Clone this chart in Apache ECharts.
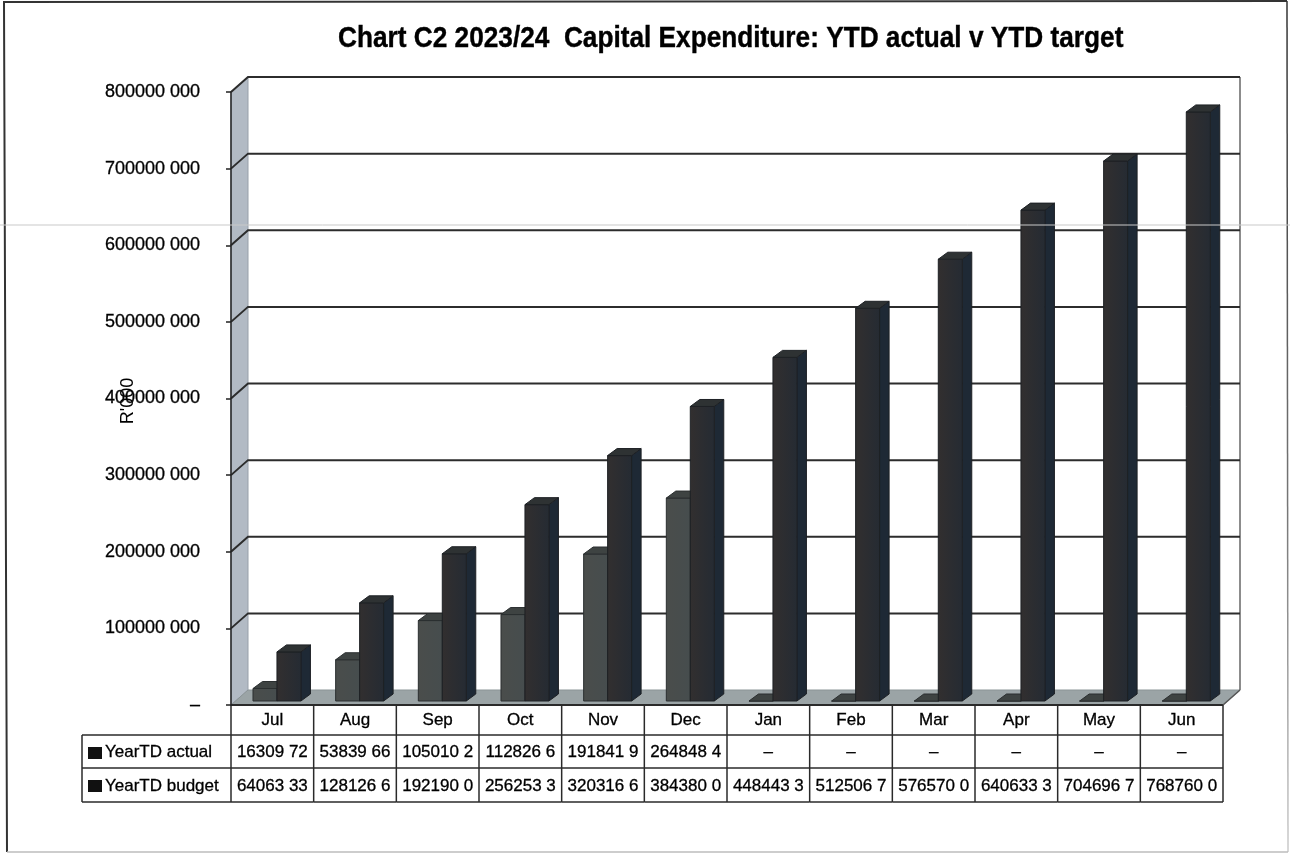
<!DOCTYPE html>
<html>
<head>
<meta charset="utf-8">
<style>html,body{margin:0;padding:0;background:#fff}#chart{width:1290px;height:856px}</style>
<script src="https://cdn.jsdelivr.net/npm/echarts@6/dist/echarts.min.js"></script>
</head>
<body>
<div id="chart"></div>
<script>
// Chart data
const chartTitle = 'Chart C2 2023/24  Capital Expenditure: YTD actual v YTD target';
const months = ['Jul','Aug','Sep','Oct','Nov','Dec','Jan','Feb','Mar','Apr','May','Jun'];
const actualName = 'YearTD actual';
const budgetName = 'YearTD budget';
const actualValues = [16309720, 53839660, 105010200, 112826600, 191841900, 264848400, 0, 0, 0, 0, 0, 0];
const budgetValues = [64063330, 128126600, 192190000, 256253300, 320316600, 384380000, 448443300, 512506700, 576570000, 640633300, 704696700, 768760000];
const actualText = ['16309 72','53839 66','105010 2','112826 6','191841 9','264848 4','–','–','–','–','–','–'];
const budgetText = ['64063 33','128126 6','192190 0','256253 3','320316 6','384380 0','448443 3','512506 7','576570 0','640633 3','704696 7','768760 0'];
const yTicks = [0, 100000000, 200000000, 300000000, 400000000, 500000000, 600000000, 700000000, 800000000];
const yTickText = ['–','100000 000','200000 000','300000 000','400000 000','500000 000','600000 000','700000 000','800000 000'];

// Pseudo-3D projection of the plot box and bars, in pixels
const DEPTH_X = 17, DEPTH_Y = 15;
const BAR_DX = 9.5, BAR_DY = 7, BAR_LIFT = 4;
const FONT = '"Liberation Sans", Arial, sans-serif';

function renderBox(params, api) {
  const r = params.coordSys;
  const y = api.coord([0, api.value(0)])[1];
  const x0 = r.x, x1 = r.x + r.width, yb = r.y + r.height, yt = r.y;
  const kids = [];
  if (params.dataIndex === 0) {
    kids.push({type:'polygon', shape:{points:[[x0,yt],[x0+DEPTH_X,yt-DEPTH_Y],[x0+DEPTH_X,yb-DEPTH_Y],[x0,yb]]},
      style:{fill:'#b2bac4', stroke:'#98a0aa', lineWidth:1}});
    kids.push({type:'polygon', shape:{points:[[x0,yb],[x0+DEPTH_X,yb-DEPTH_Y],[x1+DEPTH_X,yb-DEPTH_Y],[x1,yb]]},
      style:{fill:'#9ba4a6', stroke:'#8b9496', lineWidth:1}});
    kids.push({type:'line', shape:{x1:x0, y1:yb, x2:x1, y2:yb}, style:{stroke:'#2a2a2a', lineWidth:2}});
    kids.push({type:'line', shape:{x1:x1, y1:yb, x2:x1+DEPTH_X, y2:yb-DEPTH_Y}, style:{stroke:'#555', lineWidth:1.5}});
    kids.push({type:'line', shape:{x1:x1+DEPTH_X, y1:yt-DEPTH_Y, x2:x1+DEPTH_X, y2:yb-DEPTH_Y},
      style:{stroke:'#666', lineWidth:1.5}});
  }
  if (api.value(0) > 0) {
    kids.push({type:'polyline', shape:{points:[[x0,y],[x0+DEPTH_X,y-DEPTH_Y],[x1+DEPTH_X,y-DEPTH_Y]]},
      style:{stroke:'#2c2c2c', lineWidth:2, fill:'none'}});
  }
  return {type:'group', children:kids};
}

function makeBarRenderer(offsetFrac, widthFrac, colors) {
  return function (params, api) {
    const band = api.size([1, 0])[0];
    const p = api.coord([api.value(0), api.value(1)]);
    const base = api.coord([api.value(0), 0])[1] - BAR_LIFT;
    const x = p[0] - band / 2 + band * offsetFrac;
    const w = band * widthFrac;
    const y = p[1] - BAR_LIFT;
    const edge = {stroke:colors.edge, lineWidth:1};
    const frontFill = new echarts.graphic.LinearGradient(0, 0, 1, 0, [
      {offset:0, color:colors.frontLeft}, {offset:1, color:colors.frontRight}
    ]);
    return {type:'group', children:[
      {type:'polygon', shape:{points:[[x+w,y],[x+w+BAR_DX,y-BAR_DY],[x+w+BAR_DX,base-BAR_DY],[x+w,base]]},
        style:Object.assign({fill:colors.side}, edge)},
      {type:'rect', shape:{x:x, y:y, width:w, height:base-y}, style:{fill:frontFill, stroke:colors.edge, lineWidth:1}},
      {type:'polygon', shape:{points:[[x,y],[x+BAR_DX,y-BAR_DY],[x+w+BAR_DX,y-BAR_DY],[x+w,y]]},
        style:Object.assign({fill:colors.top}, edge)}
    ]};
  };
}

// Data table under the plot; rows follow the category scale
const ROW_HEAD_BOTTOM = 735, ROW_ONE_BOTTOM = 768, ROW_TWO_BOTTOM = 802, KEY_LEFT = 82;
function renderTable(params, api) {
  const i = api.value(0);
  const band = api.size([1, 0])[0];
  const cx = api.coord([i, 0])[0];
  const yHead = api.coord([i, 0])[1];
  const l = cx - band / 2, rgt = cx + band / 2;
  const lineStyle = {stroke:'#2a2a2a', lineWidth:1.5};
  const seg = (x1, y1, x2, y2) => ({type:'line', shape:{x1, y1, x2, y2}, style:lineStyle});
  const label = (text, x, y, align) => ({type:'text', style:{text, x, y, align:align||'center', verticalAlign:'middle',
    fill:'#000', stroke:'#000', lineWidth:0.3, font:'17px ' + FONT}});
  const kids = [
    seg(rgt, yHead, rgt, ROW_TWO_BOTTOM),
    seg(l, ROW_HEAD_BOTTOM, rgt, ROW_HEAD_BOTTOM),
    seg(l, ROW_ONE_BOTTOM, rgt, ROW_ONE_BOTTOM),
    seg(l, ROW_TWO_BOTTOM, rgt, ROW_TWO_BOTTOM),
    label(actualText[i], cx, (ROW_HEAD_BOTTOM + ROW_ONE_BOTTOM) / 2 + 1),
    label(budgetText[i], cx, (ROW_ONE_BOTTOM + ROW_TWO_BOTTOM) / 2 + 1)
  ];
  if (i === 0) {
    kids.push(seg(l, yHead, l, ROW_TWO_BOTTOM),
      seg(KEY_LEFT, ROW_HEAD_BOTTOM, l, ROW_HEAD_BOTTOM),
      seg(KEY_LEFT, ROW_ONE_BOTTOM, l, ROW_ONE_BOTTOM),
      seg(KEY_LEFT, ROW_TWO_BOTTOM, l, ROW_TWO_BOTTOM),
      seg(KEY_LEFT, ROW_HEAD_BOTTOM, KEY_LEFT, ROW_TWO_BOTTOM),
      {type:'rect', shape:{x:88, y:747, width:14, height:12}, style:{fill:'#111'}},
      {type:'rect', shape:{x:88, y:780, width:14, height:12}, style:{fill:'#111'}},
      label(actualName, 105, (ROW_HEAD_BOTTOM + ROW_ONE_BOTTOM) / 2 + 1, 'left'),
      label(budgetName, 105, (ROW_ONE_BOTTOM + ROW_TWO_BOTTOM) / 2 + 1, 'left'));
  }
  return {type:'group', children:kids};
}

const chart = echarts.init(document.getElementById('chart'), null, {renderer:'canvas'});
chart.setOption({
  animation: false,
  backgroundColor: '#ffffff',
  grid: {left: 231, top: 92, width: 992, height: 613, containLabel: false},
  xAxis: {
    type: 'category', data: months, boundaryGap: true,
    axisLine: {show: false}, axisTick: {show: false},
    axisLabel: {fontFamily: FONT, fontSize: 17, color: '#000', margin: 7, interval: 0,
      textBorderColor: '#000', textBorderWidth: 0.3}
  },
  yAxis: {
    type: 'value', min: 0, max: 800000000, interval: 100000000, z: 6,
    name: "R'000", nameLocation: 'middle', nameRotate: 90, nameGap: 94, nameMoveOverlap: false,
    nameTextStyle: {fontFamily: FONT, fontSize: 18, color: '#000', padding: [0, 5, 0, 0]},
    axisLine: {show: true, lineStyle: {color: '#222', width: 1.5}},
    axisTick: {show: true, length: 5, lineStyle: {color: '#222', width: 1.5}},
    axisLabel: {fontFamily: FONT, fontSize: 18, color: '#000', margin: 31,
      textBorderColor: '#000', textBorderWidth: 0.3,
      formatter: (v) => yTickText[yTicks.indexOf(v)]},
    splitLine: {show: false}
  },
  graphic: [
    {type:'text', silent:true, z:20, x:338, y:24, scaleX:0.874,
      style:{text:chartTitle, font:'bold 30px ' + FONT, fill:'#000', stroke:'#000', lineWidth:0.4}},
    {type:'polyline', silent:true, z:-1, shape:{points:[[7,852],[4,2],[1287,1]]}, style:{fill:'none', stroke:'#333', lineWidth:2}},
    {type:'line', silent:true, z:-1, shape:{x1:1287, y1:1, x2:1288, y2:852},
      style:{lineWidth:1.5, stroke:new echarts.graphic.LinearGradient(0, 0, 0, 1, [{offset:0, color:'#333'}, {offset:0.6, color:'#777'}, {offset:1, color:'#ccc'}])}},
    {type:'line', silent:true, z:-1, shape:{x1:7, y1:852, x2:1288, y2:852}, style:{stroke:'#bdbdbd', lineWidth:1.5}},
    {type:'line', silent:true, z:50, shape:{x1:0, y1:225, x2:1290, y2:225}, style:{stroke:'#c9c9c9', lineWidth:1}}
  ],
  series: [
    {name:'box', type:'custom', z:1, clip:false, renderItem:renderBox, data:yTicks.map(v => [v]), encode:{y:0}, silent:true},
    {name:actualName, type:'custom', z:3, clip:false,
      renderItem:makeBarRenderer(0.266, 0.29, {frontLeft:'#4a4d4b', frontRight:'#464d4e', side:'#323a3c', top:'#3e4342', edge:'#2b2f30'}),
      data:actualValues.map((v, i) => [i, v]), encode:{x:0, y:1}},
    {name:budgetName, type:'custom', z:4, clip:false,
      renderItem:makeBarRenderer(0.556, 0.29, {frontLeft:'#322f2f', frontRight:'#252b33', side:'#1e2935', top:'#2e3233', edge:'#1d2024'}),
      data:budgetValues.map((v, i) => [i, v]), encode:{x:0, y:1}},
    {name:'table', type:'custom', z:5, clip:false, renderItem:renderTable, data:months.map((m, i) => [i, 0]), encode:{x:0, y:1}, silent:true}
  ]
});
</script>
</body>
</html>
